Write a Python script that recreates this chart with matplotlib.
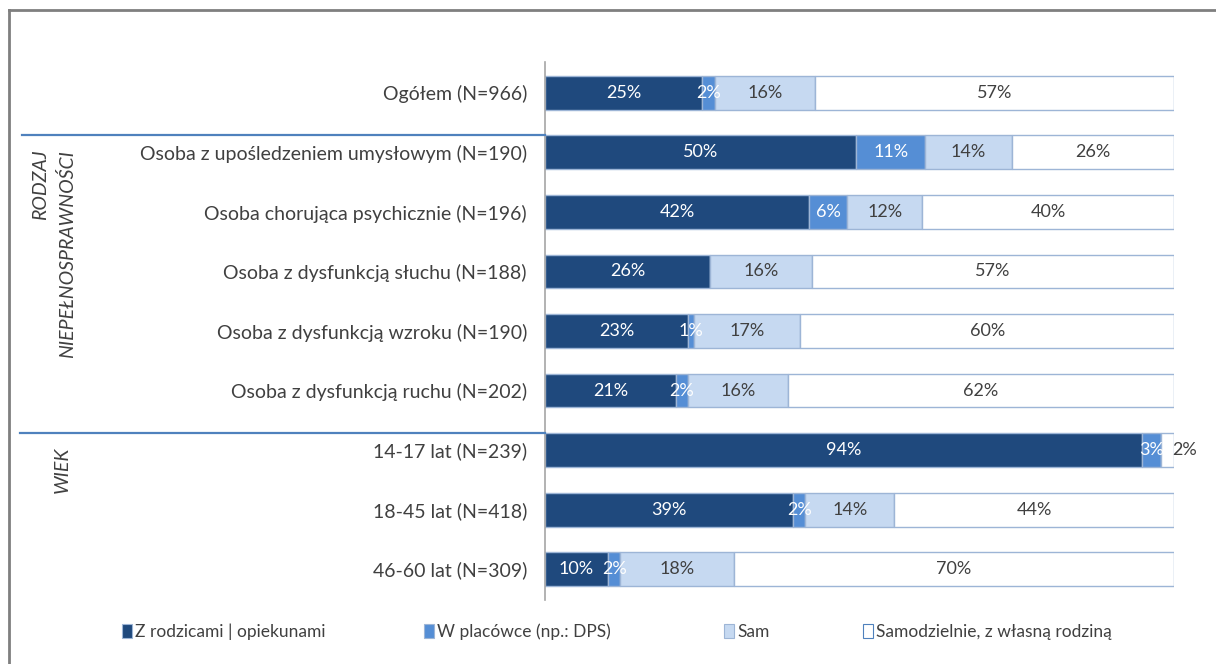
import numpy as np
import matplotlib.pyplot as plt
from matplotlib.lines import Line2D
from matplotlib.patches import Patch

plt.rcParams['font.family'] = ['Lato', 'DejaVu Sans']

categories = [
    'Ogółem (N=966)',
    'Osoba z upośledzeniem umysłowym (N=190)',
    'Osoba chorująca psychicznie (N=196)',
    'Osoba z dysfunkcją słuchu (N=188)',
    'Osoba z dysfunkcją wzroku (N=190)',
    'Osoba z dysfunkcją ruchu (N=202)',
    '14-17 lat (N=239)',
    '18-45 lat (N=418)',
    '46-60 lat (N=309)',
]
z_rodzicami = [25, 50, 42, 26, 23, 21, 94, 39, 10]
w_placowce = [2, 11, 6, 0, 1, 2, 3, 2, 2]
sam = [16, 14, 12, 16, 17, 16, 0, 14, 18]
samodzielnie = [57, 26, 40, 57, 60, 62, 2, 44, 70]

series = [z_rodzicami, w_placowce, sam, samodzielnie]
series_names = ['Z rodzicami | opiekunami', 'W placówce (np.: DPS)', 'Sam',
                'Samodzielnie, z własną rodziną']
colors = ['#1F497D', '#558ED5', '#C6D9F1', '#FFFFFF']
text_colors = ['white', 'white', '#404040', '#404040']
edge = '#9DB5D6'

W, H = 1216, 664
fig = plt.figure(figsize=(W / 100, H / 100), dpi=100)

# 100% stacked bars: each row is scaled to its own total
data = np.array(series, dtype=float)
shares = data / data.sum(axis=0) * 100

ax = fig.add_axes([545 / W, 1 - 600 / H, (1174 - 545) / W, (600 - 62) / H])
rows = np.arange(len(categories))
bar_h = 0.57
left = np.zeros(len(categories))
for k, (col, tc) in enumerate(zip(colors, text_colors)):
    ax.barh(rows, shares[k], left=left, height=bar_h, color=col,
            edgecolor=edge, linewidth=1)
    for i, v in enumerate(data[k]):
        if v <= 0:
            continue
        xc = left[i] + shares[k][i] / 2
        if col == '#FFFFFF' and v < 3:
            xc = left[i] + shares[k][i] + 1.7
        ax.text(xc, rows[i], f'{int(v)}%', ha='center', va='center',
                color=tc, fontsize=13)
    left += shares[k]

ax.set_xlim(0, 100)
ax.set_ylim(8.52, -0.52)
ax.set_yticks(rows)
ax.set_yticklabels(categories, fontsize=14, color='#404040')
ax.tick_params(axis='y', length=0, pad=13)
ax.tick_params(axis='x', bottom=False, labelbottom=False)
for s in ['top', 'right', 'bottom']:
    ax.spines[s].set_visible(False)
ax.spines['left'].set_color('#A6A6A6')
ax.spines['left'].set_linewidth(1.2)

# group separators at the top edge of the first bar of each group
for r, x0 in [(1, 22), (6, 20)]:
    y_disp = ax.transData.transform((0, r - bar_h / 2))[1]
    yf = y_disp / H
    fig.add_artist(Line2D([x0 / W, 545 / W], [yf, yf], color='#4F81BD', lw=1.6))

fig.text(54 / W, 1 - 150 / H, 'RODZAJ\nNIEPEŁNOSPRAWNOŚCI', rotation=90,
         ha='center', va='top', multialignment='right', style='italic',
         fontsize=14, color='#404040', linespacing=1.6)
fig.text(62 / W, 1 - 447 / H, 'WIEK', rotation=90, ha='center', va='top',
         style='italic', fontsize=14, color='#404040')

# outer frame
fig.add_artist(Line2D([9 / W, 9 / W], [0, 1 - 10 / H], color='#7F7F7F', lw=2))
fig.add_artist(Line2D([9 / W, 1], [1 - 10 / H, 1 - 10 / H], color='#7F7F7F', lw=2))

# legend entries placed one by one along the bottom row
legend_x = [122, 424, 724, 863]
for name, c, lx in zip(series_names, colors, legend_x):
    h = Patch(facecolor=c, edgecolor=('#4F81BD' if c == '#FFFFFF' else edge), lw=0.8)
    fig.legend([h], [name], loc='center left', bbox_to_anchor=(lx / W, 1 - 632 / H),
               frameon=False, fontsize=12.5, handlelength=0.6, handleheight=0.85,
               handletextpad=0.15, borderpad=0, borderaxespad=0,
               labelcolor='#404040')

fig.savefig('out.png', dpi=100)
